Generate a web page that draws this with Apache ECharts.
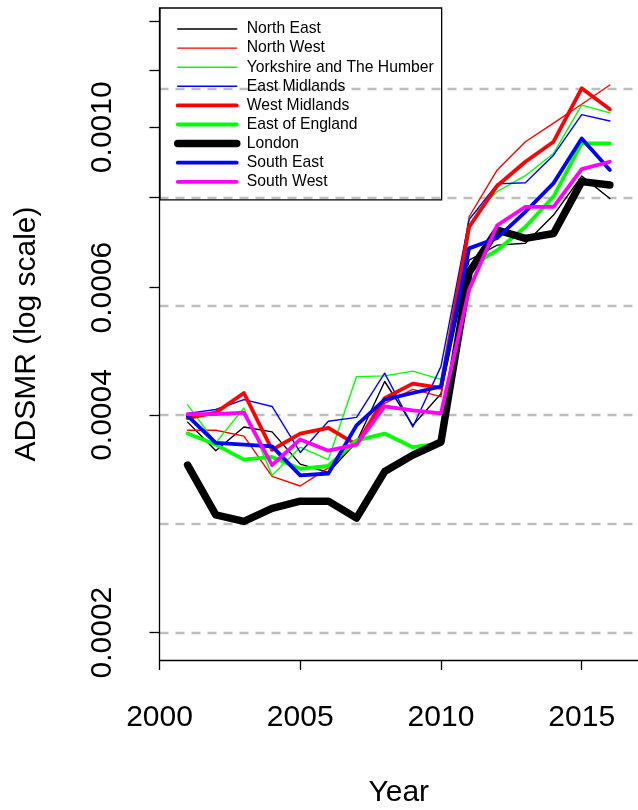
<!DOCTYPE html>
<html>
<head>
<meta charset="utf-8">
<script src="https://cdn.jsdelivr.net/npm/echarts@6/dist/echarts.min.js"></script>
<style>
  html, body { margin: 0; padding: 0; background: #fff; }
  #chart { width: 638px; height: 810px; }
</style>
</head>
<body>
<div id="chart"></div>
<script>
// years on the x axis
const years = [2001, 2002, 2003, 2004, 2005, 2006, 2007, 2008, 2009, 2010, 2011, 2012, 2013, 2014, 2015, 2016];

// ADSMR per region
const northEast = [0.000391, 0.000357, 0.000385, 0.000379, 0.000342, 0.000333, 0.000367, 0.000445, 0.000387, 0.000428, 0.000655, 0.000687, 0.000691, 0.000756, 0.000856, 0.000797];
const northWest = [0.000381, 0.000381, 0.000374, 0.000329, 0.000319, 0.000338, 0.000366, 0.000415, 0.000434, 0.000424, 0.000752, 0.000873, 0.000955, 0.001013, 0.001076, 0.001144];
const yorkshire = [0.000413, 0.000366, 0.000409, 0.000330, 0.000361, 0.000347, 0.000452, 0.000453, 0.000460, 0.000448, 0.000748, 0.000815, 0.000857, 0.000920, 0.001073, 0.001047];
const eastMidlands = [0.000402, 0.000407, 0.000420, 0.000411, 0.000355, 0.000392, 0.000397, 0.000457, 0.000385, 0.000467, 0.000745, 0.000835, 0.000838, 0.000915, 0.001041, 0.001020];
const westMidlands = [0.000396, 0.000403, 0.000429, 0.000358, 0.000377, 0.000384, 0.000364, 0.000422, 0.000442, 0.000436, 0.000728, 0.000830, 0.000896, 0.000955, 0.001132, 0.001059];
const eastOfEngland = [0.000377, 0.000364, 0.000347, 0.000350, 0.000337, 0.000340, 0.000369, 0.000377, 0.000361, 0.000365, 0.000640, 0.000676, 0.000728, 0.000802, 0.000950, 0.000950];
const london = [0.000341, 0.000291, 0.000285, 0.000297, 0.000304, 0.000304, 0.000288, 0.000334, 0.000352, 0.000367, 0.000630, 0.000721, 0.000702, 0.000713, 0.000841, 0.000832];
const southEast = [0.000399, 0.000366, 0.000364, 0.000362, 0.000330, 0.000332, 0.000387, 0.000420, 0.000429, 0.000438, 0.000680, 0.000703, 0.000764, 0.000837, 0.000965, 0.000873];
const southWest = [0.000401, 0.000401, 0.000403, 0.000341, 0.000370, 0.000357, 0.000364, 0.000411, 0.000406, 0.000402, 0.000596, 0.000732, 0.000776, 0.000776, 0.000875, 0.000896];

const regionNames = ['North East', 'North West', 'Yorkshire and The Humber', 'East Midlands',
  'West Midlands', 'East of England', 'London', 'South East', 'South West'];
const regionValues = [northEast, northWest, yorkshire, eastMidlands, westMidlands,
  eastOfEngland, london, southEast, southWest];

// axis ticks / labels / dashed reference levels
const xTicks = [2000, 2005, 2010, 2015];
const yTicks = [0.0002, 0.0004, 0.0006, 0.0008, 0.0010, 0.0012, 0.0014];
const yLabels = [0.0002, 0.0004, 0.0006, 0.0010];
const gridLevels = [0.0002, 0.000283, 0.0004, 0.000566, 0.0008, 0.00113];

// styling
const regionColors = ['#000000', '#ff0000', '#00ff00', '#0000ff', '#ff0000', '#00ff00', '#000000', '#0000ff', '#ff00ff'];
const regionWidths = [1.4, 1.4, 1.4, 1.4, 3.8, 3.8, 7.5, 3.8, 3.8];
const font = 'Liberation Sans, Arial, Helvetica, sans-serif';
const yMin = 0.0001833, yMax = 0.001462;

const chart = echarts.init(document.getElementById('chart'), null, { renderer: 'canvas' });

const series = regionNames.map(function (name, i) {
  return {
    name: name,
    type: 'line',
    yAxisIndex: 0,
    symbol: 'none',
    silent: true,
    z: 3,
    data: years.map(function (yr, j) { return [yr, regionValues[i][j]]; }),
    lineStyle: { color: regionColors[i], width: regionWidths[i], cap: 'round', join: 'round' },
    itemStyle: { color: regionColors[i] }
  };
});

function log10List(list) {
  return list.map(function (v) { return Math.log10(v); });
}

chart.setOption({
  animation: false,
  backgroundColor: '#fff',
  grid: { left: 159.5, right: 0, top: 8, bottom: 150, containLabel: false, outerBoundsMode: 'none' },
  legend: {
    data: regionNames,
    orient: 'vertical',
    left: 160,
    top: 8,
    padding: [13, 8, 10, 14],
    itemWidth: 59,
    itemHeight: 14,
    itemGap: 3.1,
    borderColor: '#000',
    borderWidth: 1.3,
    borderRadius: 0,
    selectedMode: false,
    // hide the point marker, keep only the line sample
    itemStyle: { opacity: 0, color: 'rgba(0,0,0,0)', borderWidth: 0 },
    lineStyle: { width: 'inherit', cap: 'round' },
    textStyle: { fontFamily: font, fontSize: 15.7, color: '#000', padding: [0, 0, 0, 5] }
  },
  xAxis: {
    type: 'value',
    min: 2000,
    max: 2017,
    name: 'Year',
    nameLocation: 'middle',
    nameGap: 118,
    nameTextStyle: { fontFamily: font, fontSize: 30, color: '#000' },
    axisLine: { onZero: false, lineStyle: { color: '#000', width: 1.3 } },
    axisTick: { length: 10, customValues: xTicks, lineStyle: { color: '#000', width: 1.3 } },
    axisLabel: {
      customValues: xTicks, fontFamily: font, fontSize: 30, color: '#000', margin: 43,
      formatter: function (v) { return String(v); }
    },
    splitLine: { show: false }
  },
  yAxis: [
    {
      // the data axis: log scale
      type: 'log',
      logBase: 10,
      min: yMin,
      max: yMax,
      position: 'left',
      axisLine: { show: true, lineStyle: { color: '#000', width: 1.3 } },
      axisTick: { show: false },
      axisLabel: { show: false },
      splitLine: { show: false }
    },
    {
      // same log scale in log10 units, for ticks and labels
      type: 'value',
      min: Math.log10(yMin),
      max: Math.log10(yMax),
      position: 'left',
      offset: 0,
      name: 'ADSMR (log scale)',
      nameLocation: 'middle',
      nameRotate: 90,
      nameGap: 118,
      nameTextStyle: { fontFamily: font, fontSize: 30, color: '#000' },
      axisLine: { show: false },
      axisTick: {
        show: true, length: 10,
        customValues: log10List(yTicks),
        lineStyle: { color: '#000', width: 1.3 }
      },
      axisLabel: {
        customValues: log10List(yLabels),
        rotate: 90,
        margin: 42,
        fontFamily: font,
        fontSize: 30,
        color: '#000',
        formatter: function (v) { return Math.pow(10, v).toFixed(4); }
      },
      splitLine: { show: false }
    },
    {
      // same log scale again, only for the dashed grey reference lines
      type: 'value',
      min: Math.log10(yMin),
      max: Math.log10(yMax),
      position: 'left',
      offset: 0,
      axisLine: { show: false },
      axisTick: { show: false, customValues: log10List(gridLevels) },
      axisLabel: { show: false, customValues: log10List(gridLevels) },
      splitLine: { show: true, lineStyle: { color: '#bebebe', type: [9, 7], width: 2.3 } }
    }
  ],
  series: series
});
</script>
</body>
</html>
